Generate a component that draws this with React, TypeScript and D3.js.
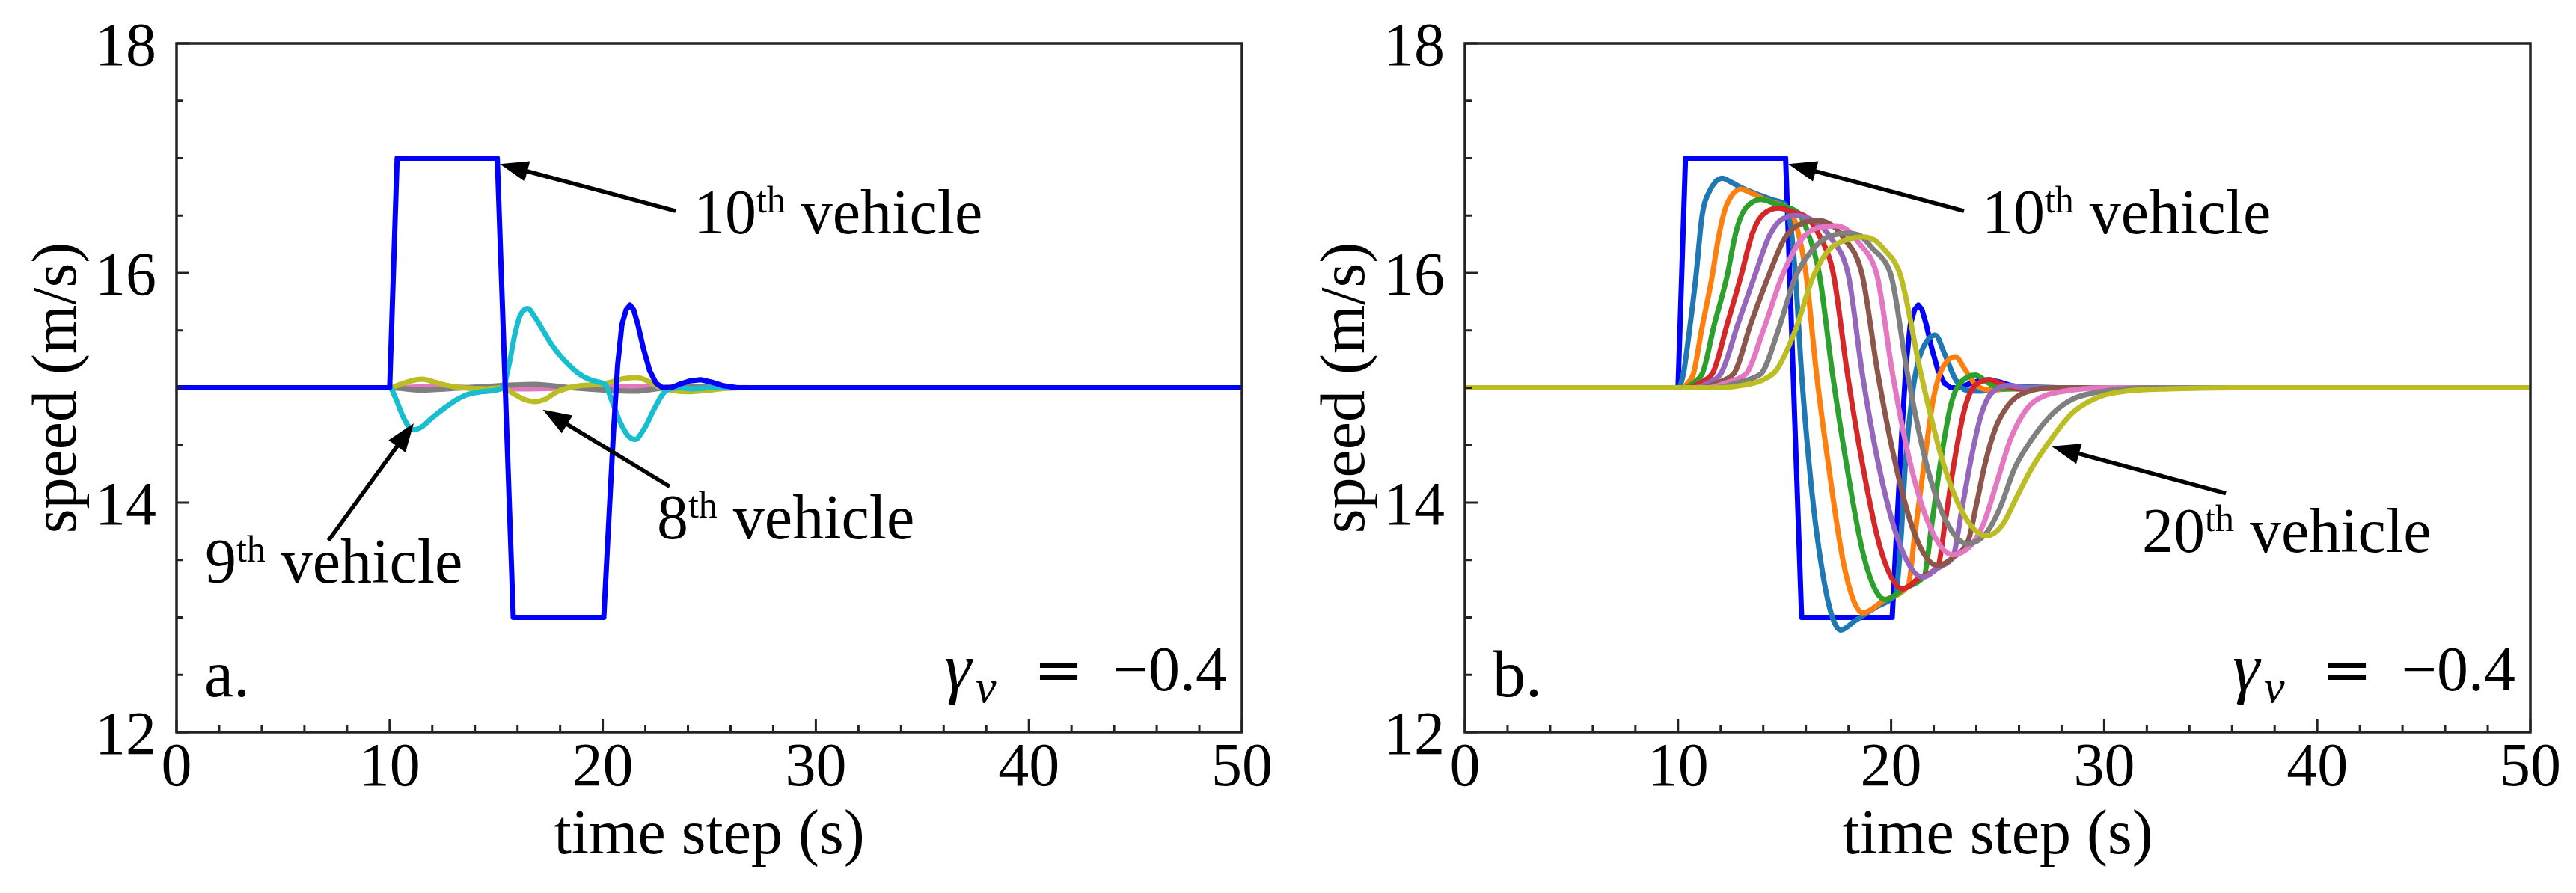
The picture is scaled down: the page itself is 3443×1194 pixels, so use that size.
import React, { useEffect } from "react";
import * as d3 from "d3";

type Pt = [number, number];

// ---------- axis text ----------
const X_TICKS = [0, 10, 20, 30, 40, 50];
const X_TICK_LABELS = ["0", "10", "20", "30", "40", "50"];
const Y_TICKS = [12, 14, 16, 18];
const Y_TICK_LABELS = ["12", "14", "16", "18"];
const X_LABEL = "time step (s)";
const Y_LABEL = "speed (m/s)";
const PANEL_LABELS = ["a.", "b."];
const GAMMA_VALUE = "−0.4";

// ---------- colours ----------
const BLUE = "#0000ff";
const TAB10 = ["#1f77b4", "#ff7f0e", "#2ca02c", "#d62728", "#9467bd", "#8c564b", "#e377c2", "#7f7f7f", "#bcbd22", "#17becf"];

// ---------- data: 10th vehicle (perturbed) ----------
const V10: Pt[] = [
  [0, 15], [10.0, 15], [10.35, 17], [15.05, 17], [15.8, 13], [20.05, 13], [20.3, 13.9], [20.5, 14.6],
  [20.7, 15.2], [20.9, 15.55], [21.1, 15.68], [21.28, 15.72], [21.45, 15.68], [21.65, 15.55], [21.9, 15.35],
  [22.2, 15.15], [22.5, 15.04], [22.8, 15.0], [23.2, 15.0], [23.6, 15.03], [24.1, 15.06], [24.6, 15.07],
  [25.1, 15.05], [25.6, 15.02], [26.3, 15.0], [50, 15],
];

// ---------- panel a: upstream vehicles ----------
const V_FLAT: Pt[] = [[0, 15], [50, 15]];
const V6: Pt[] = [[0, 15], [10, 15], [12, 15.01], [16, 14.99], [21, 15.01], [27, 15], [50, 15]];
const V7: Pt[] = [[0, 15], [10, 15], [11.5, 14.98], [13.5, 15.0], [16.8, 15.03], [18.5, 15.0], [21.5, 14.97], [23.5, 15.01], [27, 15], [50, 15]];
const V8: Pt[] = [
  [0, 15], [10.0, 15], [10.5, 15.03], [11.0, 15.06], [11.54, 15.075], [12.1, 15.05], [12.7, 15.02], [13.4, 15.0],
  [14.5, 14.99], [15.3, 15.0], [15.8, 14.95], [16.3, 14.9], [16.8, 14.88], [17.3, 14.9], [17.8, 14.96], [18.4, 15.0],
  [19.0, 15.02], [19.8, 15.03], [20.4, 15.05], [21.0, 15.08], [21.6, 15.09], [22.1, 15.06], [22.6, 15.01],
  [23.2, 14.98], [24.0, 14.965], [24.8, 14.975], [25.5, 14.99], [26.5, 15.0], [50, 15],
];
const V9: Pt[] = [
  [0, 15], [10.0, 15], [10.3, 14.9], [10.6, 14.76], [10.9, 14.66], [11.14, 14.634], [11.5, 14.66], [12.0, 14.74],
  [12.55, 14.82], [13.0, 14.88], [13.56, 14.935], [14.3, 14.965], [15.0, 14.98], [15.3, 15.0], [15.6, 15.2],
  [15.88, 15.47], [16.15, 15.64], [16.48, 15.69], [16.8, 15.62], [17.2, 15.5], [17.59, 15.38], [18.0, 15.28],
  [18.4, 15.2], [18.9, 15.12], [19.41, 15.07], [19.8, 15.05], [20.11, 15.03], [20.4, 14.9], [20.82, 14.7],
  [21.2, 14.58], [21.53, 14.55], [21.9, 14.63], [22.43, 14.82], [22.8, 14.94], [23.13, 14.99], [23.6, 15.0],
  [24.2, 14.99], [25, 15.0], [50, 15],
];

// ---------- panel b: downstream vehicles ----------
const V11: Pt[] = [
  [0, 15], [10.0, 15], [10.25, 15.12], [10.5, 15.45], [10.84, 15.97], [11.13, 16.5], [11.5, 16.72], [12.07, 16.825],
  [12.5, 16.79], [13.0, 16.74], [13.65, 16.69], [14.4, 16.64], [15.0, 16.6], [15.28, 16.42], [15.5, 16.0],
  [15.8, 15.12], [16.15, 14.34], [16.82, 13.35], [17.63, 12.89], [18.3, 12.97], [19.2, 13.08], [20.2, 13.2],
  [20.45, 13.65], [20.67, 14.34], [21.0, 14.95], [21.5, 15.35], [22.07, 15.46], [22.5, 15.3], [23.0, 15.08],
  [23.5, 14.98], [24.2, 14.97], [25.0, 15.0], [26, 15.01], [28, 15], [50, 15],
];
const V12: Pt[] = [
  [0, 15], [10.2, 15], [10.45, 15.04], [10.72, 15.12], [11.1, 15.5], [11.6, 15.97], [11.89, 16.3], [12.3, 16.6],
  [12.94, 16.73], [13.5, 16.69], [14.2, 16.63], [15.2, 16.56], [15.6, 16.38], [16.0, 16.0], [16.5, 15.12],
  [17.05, 14.34], [17.78, 13.46], [18.68, 13.04], [19.6, 13.14], [20.79, 13.27], [21.1, 13.7], [21.55, 14.34],
  [22.0, 14.92], [22.5, 15.2], [23.01, 15.27], [23.5, 15.15], [24.0, 15.02], [24.6, 14.98], [25.5, 14.99],
  [27, 15], [50, 15],
];
const V13: Pt[] = [
  [0, 15], [10.3, 15], [10.7, 15.04], [11.13, 15.12], [11.7, 15.55], [12.3, 15.97], [12.71, 16.35], [13.2, 16.57],
  [13.88, 16.64], [14.6, 16.6], [15.6, 16.53], [16.1, 16.35], [16.62, 16.0], [17.25, 15.12], [17.9, 14.34],
  [18.72, 13.53], [19.73, 13.155], [20.6, 13.25], [21.55, 13.36], [21.9, 13.8], [22.31, 14.34], [22.8, 14.85],
  [23.4, 15.07], [23.95, 15.11], [24.5, 15.05], [25.2, 14.99], [26, 14.99], [28, 15], [50, 15],
];
const V14: Pt[] = [
  [0, 15], [10.5, 15], [11.0, 15.04], [11.6, 15.12], [12.3, 15.55], [12.95, 15.97], [13.5, 16.35], [14.05, 16.52],
  [14.7, 16.565], [15.4, 16.53], [16.0, 16.49], [16.65, 16.32], [17.28, 16.0], [17.95, 15.12], [18.65, 14.34],
  [19.5, 13.6], [20.55, 13.25], [21.3, 13.34], [22.19, 13.44], [22.55, 13.85], [22.95, 14.34], [23.5, 14.85],
  [24.0, 15.03], [24.62, 15.07], [25.2, 15.03], [26, 14.99], [28, 15], [50, 15],
];
const V15: Pt[] = [
  [0, 15], [10.8, 15], [11.4, 15.04], [12.0, 15.12], [12.8, 15.55], [13.59, 15.97], [14.3, 16.33], [14.9, 16.47],
  [15.52, 16.5], [16.4, 16.45], [17.2, 16.3], [17.97, 16.0], [18.65, 15.12], [19.4, 14.34], [20.34, 13.67],
  [21.49, 13.35], [22.2, 13.43], [22.89, 13.52], [23.3, 13.92], [23.71, 14.34], [24.2, 14.75], [24.8, 14.97],
  [25.5, 15.02], [26.3, 15.0], [28, 15], [50, 15],
];
const V16: Pt[] = [
  [0, 15], [11.1, 15], [11.8, 15.04], [12.6, 15.12], [13.4, 15.55], [14.24, 15.97], [15.0, 16.3], [15.8, 16.43],
  [16.57, 16.456], [17.1, 16.43], [17.8, 16.3], [18.62, 16.0], [19.38, 15.12], [20.2, 14.34], [21.1, 13.73],
  [22.19, 13.45], [22.9, 13.52], [23.6, 13.66], [24.0, 13.98], [24.41, 14.34], [24.9, 14.65], [25.5, 14.85],
  [26.3, 14.96], [27.5, 15.0], [50, 15],
];
const V17: Pt[] = [
  [0, 15], [11.4, 15], [12.2, 15.04], [13.18, 15.12], [14.0, 15.5], [14.88, 15.97], [15.7, 16.27], [16.5, 16.39],
  [17.38, 16.41], [17.9, 16.38], [18.5, 16.26], [19.31, 16.0], [20.07, 15.12], [20.9, 14.34], [21.8, 13.8],
  [22.89, 13.545], [23.6, 13.6], [24.3, 13.8], [25.0, 14.2], [25.6, 14.55], [26.3, 14.8], [27.2, 14.93],
  [28.5, 14.98], [30, 15], [50, 15],
];
const V18: Pt[] = [
  [0, 15], [11.8, 15], [12.7, 15.04], [13.88, 15.12], [14.7, 15.5], [15.52, 15.97], [16.3, 16.2], [17.1, 16.32],
  [17.98, 16.347], [18.5, 16.33], [19.1, 16.22], [19.96, 16.0], [20.77, 15.12], [21.65, 14.34], [22.53, 13.86],
  [23.6, 13.64], [24.4, 13.72], [25.1, 13.95], [25.8, 14.3], [26.6, 14.55], [27.5, 14.76], [28.5, 14.9],
  [30, 14.97], [32, 15], [50, 15],
];
const V19: Pt[] = [
  [0, 15], [12.0, 15], [13.0, 15.02], [14.0, 15.07], [14.6, 15.15], [15.5, 15.5], [16.35, 15.97], [17.4, 16.25],
  [18.68, 16.315], [19.2, 16.29], [19.7, 16.2], [20.4, 16.0], [21.4, 15.12], [22.45, 14.34], [23.4, 13.9],
  [24.47, 13.71], [25.2, 13.8], [25.9, 14.05], [26.6, 14.3], [27.5, 14.55], [28.5, 14.78], [29.5, 14.9],
  [31, 14.97], [33, 14.99], [36, 15], [50, 15],
];

type Series = { data: Pt[]; color: string; sharp?: boolean };

const SERIES_A: Series[] = [
  { data: V_FLAT, color: TAB10[0] }, { data: V_FLAT, color: TAB10[1] }, { data: V_FLAT, color: TAB10[2] },
  { data: V_FLAT, color: TAB10[3] }, { data: V_FLAT, color: TAB10[4] }, { data: V_FLAT, color: TAB10[5] },
  { data: V6, color: TAB10[6] }, { data: V7, color: TAB10[7] }, { data: V8, color: TAB10[8] },
  { data: V9, color: TAB10[9] }, { data: V10, color: BLUE, sharp: true },
];
const SERIES_B: Series[] = [
  { data: V10, color: BLUE, sharp: true },
  { data: V11, color: TAB10[0] }, { data: V12, color: TAB10[1] }, { data: V13, color: TAB10[2] },
  { data: V14, color: TAB10[3] }, { data: V15, color: TAB10[4] }, { data: V16, color: TAB10[5] },
  { data: V17, color: TAB10[6] }, { data: V18, color: TAB10[7] }, { data: V19, color: TAB10[8] },
];

// annotations in data units: label number, text anchor, arrow tail, arrow tip
type Annot = { num: string; text: Pt; tail: Pt; tip: Pt };
const ANNOT_A: Annot[] = [
  { num: "10", text: [24.26, 16.345], tail: [23.42, 16.54], tip: [15.17, 16.95] },
  { num: "9", text: [1.33, 13.3], tail: [7.13, 13.67], tip: [11.13, 14.69] },
  { num: "8", text: [22.54, 13.69], tail: [23.14, 14.14], tip: [17.19, 14.81] },
];
const ANNOT_B: Annot[] = [
  { num: "10", text: [24.26, 16.345], tail: [23.42, 16.54], tip: [15.17, 16.95] },
  { num: "20", text: [31.78, 13.57], tail: [35.71, 14.08], tip: [27.53, 14.49] },
];

// ---------- layout ----------
const W = 3443;
const H = 1194;
const TOP = 58;
const PW = 1424;
const PH = 921;
const LEFTS = [236, 1958];
const SERIF = "'Liberation Serif', 'Times New Roman', serif";
const FS = 84;
const TICK_FS = 82;

function Arrow({ x1, y1, x2, y2 }: { x1: number; y1: number; x2: number; y2: number }) {
  const ang = Math.atan2(y2 - y1, x2 - x1);
  const L = 38;
  const hw = 14;
  const bx = x2 - L * Math.cos(ang);
  const by = y2 - L * Math.sin(ang);
  const px = -Math.sin(ang);
  const py = Math.cos(ang);
  const pts = `${x2},${y2} ${bx + px * hw},${by + py * hw} ${bx - px * hw},${by - py * hw}`;
  return (
    <g>
      <line x1={x1} y1={y1} x2={bx + 4 * Math.cos(ang)} y2={by + 4 * Math.sin(ang)} stroke="#000" strokeWidth={5.5} />
      <polygon points={pts} fill="#000" />
    </g>
  );
}

function Panel({ idx, series, annots }: { idx: number; series: Series[]; annots: Annot[] }) {
  const left = LEFTS[idx];
  const x = d3.scaleLinear().domain([0, 50]).range([left, left + PW]);
  const y = d3.scaleLinear().domain([12, 18]).range([TOP + PH, TOP]);
  const smooth = d3.line<Pt>().x((d) => x(d[0])).y((d) => y(d[1])).curve(d3.curveMonotoneX);
  const sharp = d3.line<Pt>().x((d) => x(d[0])).y((d) => y(d[1])).curve(d3.curveLinear);
  const xMinor = x.ticks(25);
  const yMinor = y.ticks(12);
  const clipId = `clip${idx}`;
  const bottom = TOP + PH;
  return (
    <g>
      <defs>
        <clipPath id={clipId}>
          <rect x={left} y={TOP} width={PW} height={PH} />
        </clipPath>
      </defs>
      <g clipPath={`url(#${clipId})`}>
        {series.map((s, i) => (
          <path key={i} d={(s.sharp ? sharp : smooth)(s.data) || ""} fill="none" stroke={s.color}
            strokeWidth={7} strokeLinejoin="round" strokeLinecap="round" />
        ))}
      </g>
      {/* ticks */}
      {xMinor.map((t, i) => {
        const major = X_TICKS.includes(t);
        return <line key={"xm" + i} x1={x(t)} x2={x(t)} y1={bottom} y2={bottom - (major ? 17 : 9)} stroke="#222" strokeWidth={3} />;
      })}
      {yMinor.map((t, i) => {
        const major = Y_TICKS.includes(t);
        return <line key={"ym" + i} x1={left} x2={left + (major ? 17 : 9)} y1={y(t)} y2={y(t)} stroke="#222" strokeWidth={3} />;
      })}
      <rect x={left} y={TOP} width={PW} height={PH} fill="none" stroke="#222" strokeWidth={3.5} />
      {X_TICKS.map((t, i) => (
        <text key={"xt" + i} x={x(t)} y={1050} textAnchor="middle" fontFamily={SERIF} fontSize={TICK_FS} fill="#000">{X_TICK_LABELS[i]}</text>
      ))}
      {Y_TICKS.map((t, i) => (
        <text key={"yt" + i} x={left - 27} y={y(t)} dy="0.35em" textAnchor="end" fontFamily={SERIF} fontSize={TICK_FS} fill="#000">{Y_TICK_LABELS[i]}</text>
      ))}
      <text x={left + PW / 2} y={1141} textAnchor="middle" fontFamily={SERIF} fontSize={FS} fill="#000">{X_LABEL}</text>
      <text transform={`translate(${left - 135},${TOP + PH / 2}) rotate(-90)`} textAnchor="middle" fontFamily={SERIF} fontSize={FS} fill="#000">{Y_LABEL}</text>
      {/* panel letter */}
      <text x={x(1.3)} y={y(12.31)} fontFamily={SERIF} fontSize={88} fill="#000">{PANEL_LABELS[idx]}</text>
      {/* gamma label */}
      <g fontFamily={SERIF} fill="#000">
        <text x={left + PW - 398} y={923} fontSize={92} fontStyle="italic">γ</text>
        <text x={left + PW - 356} y={939} fontSize={62} fontStyle="italic">v</text>
        <text x={left + PW - 245} y={923} fontSize={80} textAnchor="middle" fontFamily="'DejaVu Serif', serif">=</text>
        <text x={left + PW - 20} y={923} fontSize={FS} textAnchor="end">{GAMMA_VALUE}</text>
      </g>
      {/* annotations */}
      {annots.map((a, i) => (
        <g key={"an" + i}>
          <Arrow x1={x(a.tail[0])} y1={y(a.tail[1])} x2={x(a.tip[0])} y2={y(a.tip[1])} />
          <text x={x(a.text[0])} y={y(a.text[1])} fontFamily={SERIF} fontSize={FS} fill="#000" style={{ whiteSpace: "pre" }}>
            {a.num}
            <tspan fontSize={50} dy={-28}>th</tspan>
            <tspan dy={28}>{" vehicle"}</tspan>
          </text>
        </g>
      ))}
    </g>
  );
}

export default function App() {
  useEffect(() => {
    document.body.style.margin = "0";
  }, []);
  return (
    <svg width={W} height={H} viewBox={`0 0 ${W} ${H}`} style={{ position: "absolute", left: 0, top: 0, background: "#fff" }}>
      <rect x={0} y={0} width={W} height={H} fill="#fff" />
      <Panel idx={0} series={SERIES_A} annots={ANNOT_A} />
      <Panel idx={1} series={SERIES_B} annots={ANNOT_B} />
    </svg>
  );
}
